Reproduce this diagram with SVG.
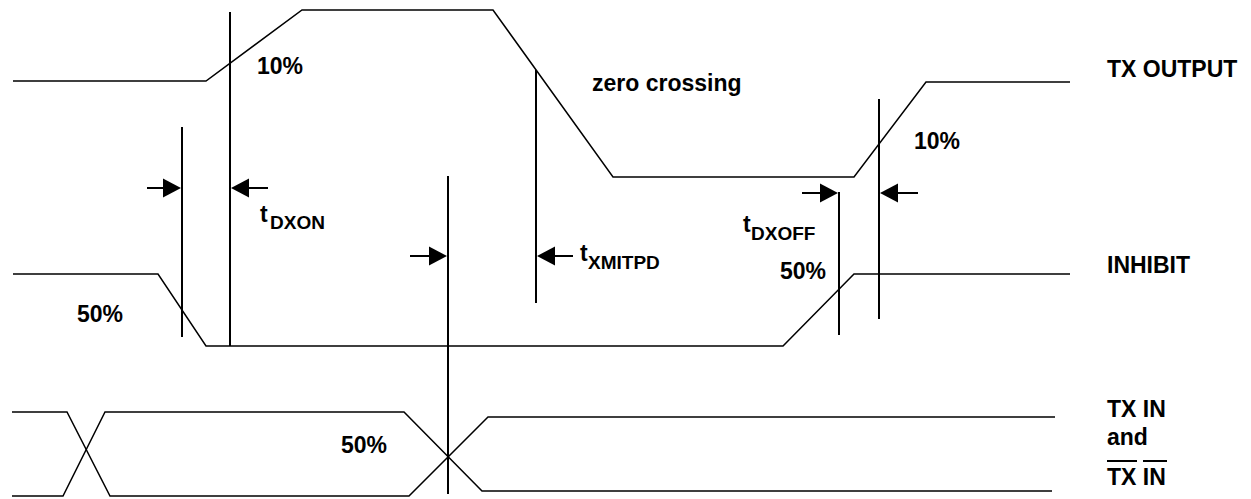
<svg xmlns="http://www.w3.org/2000/svg" width="1251" height="499" viewBox="0 0 1251 499">
<style>
.w{fill:none;stroke:#000;stroke-width:1.5;stroke-linejoin:miter}
.v{stroke:#000;stroke-width:2}
.t{font-family:"Liberation Sans",Arial,Helvetica,sans-serif;font-weight:bold;font-size:23px;fill:#000}
.s{font-size:19px}
.ah{fill:#000}
</style>
<defs>
<path id="arR" d="M0,0 L-18,-9.5 L-18,9.5 Z"/>
<path id="arL" d="M0,0 L18,-9.5 L18,9.5 Z"/>
</defs>
<rect width="1251" height="499" fill="#fff"/>
<g id="tx-output">
<polyline class="w" points="13,81 206,81 302,10 493,10 613,177 854,177 926,82 1070,82"/>
</g>
<g id="inhibit">
<polyline class="w" points="13,274 158,274 206,346 783,346 854,274 1070,274"/>
</g>
<g id="tx-in">
<polyline class="w" points="12,412 67,412 110,496 409,496 488,417 1055,417"/>
<polyline class="w" points="12,496 63,496 105,412 404,412 482,491 1052,491"/>
</g>
<g id="markers">
<line class="v" x1="182" y1="127" x2="182" y2="337"/>
<line class="v" x1="230" y1="12" x2="230" y2="346"/>
<line class="v" x1="448" y1="176" x2="448" y2="494"/>
<line class="v" x1="536" y1="70" x2="536" y2="303"/>
<line class="v" x1="839" y1="192" x2="839" y2="335"/>
<line class="v" x1="879" y1="99" x2="879" y2="319"/>
</g>
<g id="connectors">
<line class="v" x1="147" y1="188" x2="166" y2="188"/>
<use href="#arR" class="ah" x="181" y="188"/>
<line class="v" x1="248" y1="188" x2="268" y2="188"/>
<use href="#arL" class="ah" x="231" y="188"/>
<line class="v" x1="410" y1="256" x2="430" y2="256"/>
<use href="#arR" class="ah" x="447" y="256"/>
<line class="v" x1="553" y1="256" x2="573" y2="256"/>
<use href="#arL" class="ah" x="537" y="256"/>
<line class="v" x1="802" y1="193" x2="822" y2="193"/>
<use href="#arR" class="ah" x="838" y="193"/>
<line class="v" x1="898" y1="193" x2="918" y2="193"/>
<use href="#arL" class="ah" x="880" y="193"/>
</g>
<g id="labels">
<text class="t" x="257" y="74">10%</text>
<text class="t" x="592" y="91">zero crossing</text>
<text class="t" x="914" y="149">10%</text>
<text class="t" x="1107" y="77">TX OUTPUT</text>
<text class="t" x="1107" y="273">INHIBIT</text>
<text class="t" x="260" y="222">t<tspan class="s" x="270" y="229">DXON</tspan></text>
<text class="t" x="580" y="261">t<tspan class="s" x="588" y="269">XMITPD</tspan></text>
<text class="t" x="743" y="232">t<tspan class="s" x="751" y="240">DXOFF</tspan></text>
<text class="t" x="77" y="322">50%</text>
<text class="t" x="780" y="279">50%</text>
<text class="t" x="341" y="453">50%</text>
<text class="t" x="1107" y="417">TX IN</text>
<text class="t" x="1107" y="445">and</text>
<text class="t" x="1107" y="485">TX IN</text>
<line class="v" x1="1107" y1="461" x2="1137" y2="461"/>
<line class="v" x1="1143" y1="461" x2="1167" y2="461"/>
</g>
</svg>
